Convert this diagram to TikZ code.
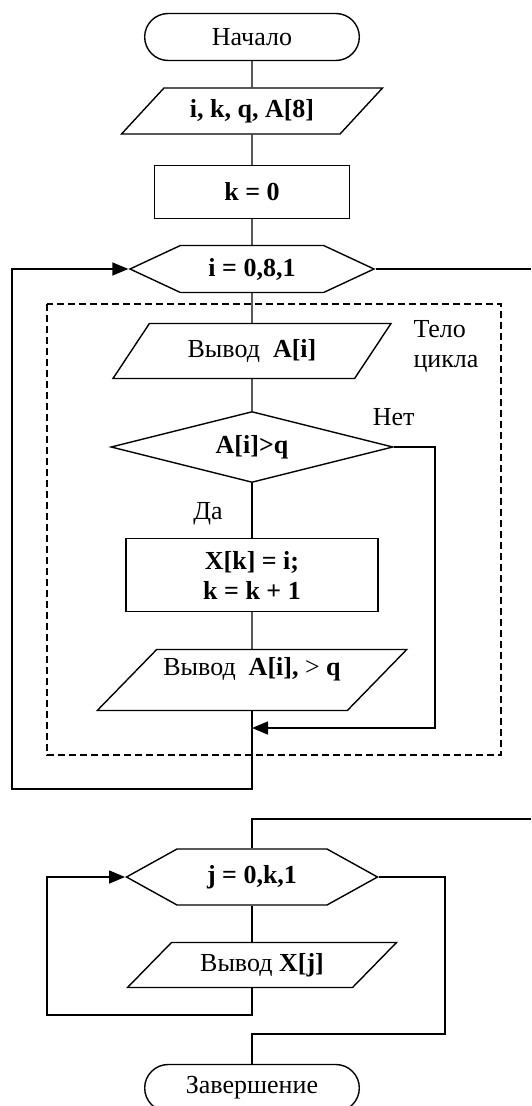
\documentclass[tikz,border=0pt]{standalone}
\usepackage{fontspec}
\setmainfont{Liberation Serif}
\usetikzlibrary{shapes.geometric, shapes.misc, shapes.symbols, arrows.meta, positioning}
\tikzstyle{terminal} = [rounded rectangle, minimum width=114pt, minimum height=23.5pt, text centered, draw=black]
\tikzstyle{io} = [trapezium, trapezium left angle=45, trapezium right angle=135, trapezium stretches body, text centered, draw=black]
\tikzstyle{process} = [rectangle, text centered, draw=black]
\tikzstyle{decision} = [diamond, aspect=4, inner sep=0pt, text centered, draw=black]
\tikzstyle{loophead} = [signal, signal to=west and east, signal pointer angle=54, text centered, draw=black]
\tikzstyle{line} = [draw, -{Triangle[length=8pt, width=6.5pt]}]
\tikzstyle{plain} = [draw]

\begin{document}
\begin{tikzpicture}[x=0.5pt, y=-0.5pt, line width=0.7pt, font=\fontsize{13}{15}\selectfont]
    \useasboundingbox (0,0) rectangle (531,1106);
    % Nodes
    \node [terminal] (start) at (252,37) {Начало};
    \node [io, below of=start, node distance=37pt, minimum width=130.5pt, minimum height=23pt, trapezium left angle=41, trapezium right angle=139] (input) {\textbf{i, k, q, A[8]}};
    \node [process, below of=input, node distance=40.5pt, minimum width=97.5pt, minimum height=26.5pt] (init) {\textbf{k = 0}};
    \node [loophead, below of=init, node distance=38.5pt, minimum width=122pt, minimum height=23.5pt, signal pointer angle=50] (loopi) {\textbf{i = 0,8,1}};
    \node [io, below of=loopi, node distance=41pt, minimum width=139pt, minimum height=27.5pt] (outa) {Вывод\ \ \textbf{A[i]}};
    \node [decision, below of=outa, node distance=48pt, minimum width=141pt, minimum height=35.5pt] (cond) {\textbf{A[i]>q}};
    \node [process, below of=cond, node distance=64pt, minimum width=126pt, minimum height=36.5pt, align=center] (assign) {\textbf{X[k] = i;}\\\textbf{k = k + 1}};
    \node [io, below of=assign, node distance=52.5pt, minimum width=153pt, minimum height=30.5pt, text depth=14pt] (outb) {Вывод\ \ \textbf{A[i],} > \textbf{q}};
    \node [loophead, below of=outb, node distance=98.5pt, minimum width=125.5pt, minimum height=28pt, signal pointer angle=58] (loopj) {\textbf{j = 0,k,1}};
    \node [io, below of=loopj, node distance=44pt, xshift=5pt, minimum width=134.5pt, minimum height=22.5pt, trapezium left angle=40, trapezium right angle=140] (outx) {Вывод \textbf{X[j]}};
    \node [terminal, below of=outx, node distance=61.5pt, xshift=-5pt] (stop) {Завершение};

    % Labels
    \node [above=7pt of cond.east] (no) {Нет};
    \node [below left=6pt and 11pt of cond.south] (yes) {Да};
    \node [align=left] (body) at (446,347) {Тело\\цикла};
    \draw [dash pattern=on 3.5pt off 2pt] (47,304) rectangle (501,755);

    % Turning points
    \coordinate (backi) at (12,789);
    \coordinate (exiti) at (531,269);
    \coordinate (noturn) at (435,728);
    \coordinate (joini) at (252,728);
    \coordinate (entryj) at (531,819);
    \coordinate (backj) at (47,1015);
    \coordinate (exitj) at (445,1034);

    % Edges
    \path [plain] (start) -- (input);
    \path [plain] (input) -- (init);
    \path [plain] (init) -- (loopi);
    \path [plain] (loopi) -- (outa);
    \path [plain] (outa) -- (cond);
    \path [plain] (cond) -- (assign);
    \path [plain] (assign) -- (outb);
    \path [line] (outb.south) |- (backi) |- (loopi.west);
    \path [plain] (loopi.east) -- (exiti);
    \path [line] (cond.east) -| (noturn) -- (joini);
    \path [plain] (entryj) -| (loopj.north);
    \path [plain] (loopj.south) -- (loopj.south |- outx.north);
    \path [line] (loopj.south |- outx.south) |- (backj) |- (loopj.west);
    \path [plain] (loopj.east) -| (exitj) -| (stop.north);
\end{tikzpicture}
\end{document}
